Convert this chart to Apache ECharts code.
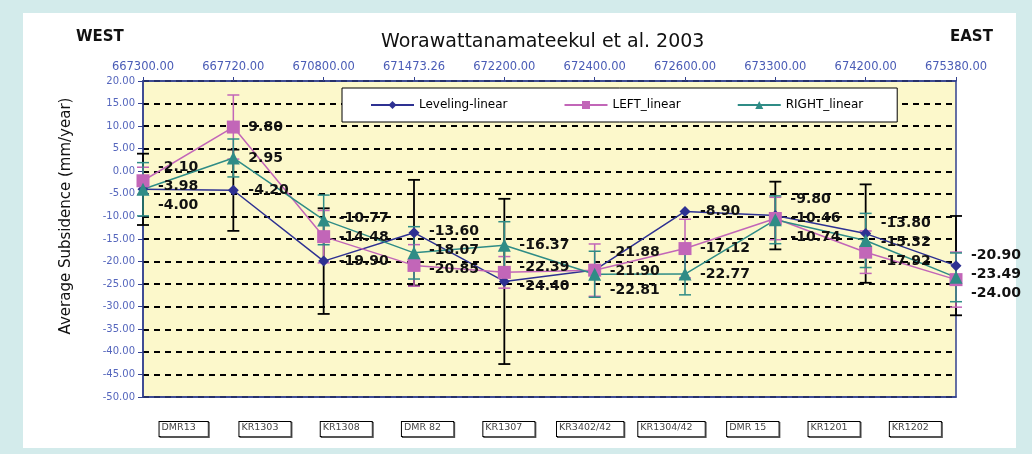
<!DOCTYPE html>
<html>
<head>
<meta charset="utf-8">
<script src="https://cdn.jsdelivr.net/npm/echarts@6/dist/echarts.min.js"></script>
<style>
  html, body { margin: 0; padding: 0; background: #d3ebeb; }
  #panel { position: absolute; left: 23px; top: 13px; width: 993px; height: 435px; background: #ffffff; }
  #chart { position: absolute; left: 0; top: 0; width: 1032px; height: 454px; }
</style>
</head>
<body>
<div id="panel"></div>
<div id="chart"></div>
<script>
// ---- data ----
const stations = ['DMR13', 'KR1303', 'KR1308', 'DMR 82', 'KR1307', 'KR3402/42', 'KR1304/42', 'DMR 15', 'KR1201', 'KR1202'];
const eastings = ['667300.00', '667720.00', '670800.00', '671473.26', '672200.00', '672400.00', '672600.00', '673300.00', '674200.00', '675380.00'];
const seriesNames = ['Leveling-linear', 'LEFT_linear', 'RIGHT_linear'];
const leveling = [-4.00, -4.20, -19.90, -13.60, -24.40, -21.88, -8.90, -9.80, -13.80, -20.90];
const leftLin  = [-2.10, 9.80, -14.48, -20.85, -22.39, -21.90, -17.12, -10.46, -17.92, -24.00];
const rightLin = [-3.98, 2.95, -10.77, -18.07, -16.37, -22.81, -22.77, -10.74, -15.32, -23.49];
const levelingErr = [7.9, 9.0, 11.7, 11.7, 18.3, 0, 0, 7.5, 10.9, 11.0];
const leftErr     = [3.0, 7.1, 5.8, 4.6, 3.5, 5.8, 6.5, 4.7, 4.7, 6.1];
const rightErr    = [5.9, 4.2, 5.5, 5.8, 5.2, 5.1, 4.6, 5.3, 6.0, 5.4];
const yMin = -50, yMax = 20, yStep = 5;

const allVals = [leveling, leftLin, rightLin];
const colors = ['#2e3192', '#c266b8', '#2f8c86'];
const errColors = ['#000000', '#c266b8', '#2f8c86'];
const symbols = ['diamond', 'rect', 'triangle'];
const symbolSizes = [11, 13, 13];

const chart = echarts.init(document.getElementById('chart'), null, { renderer: 'canvas' });

// generic 1D de-overlap of the three labels at one station
function spreadLabels(ys, gap) {
  const items = ys.map((y, k) => ({ k, y })).sort((a, b) => a.y - b.y);
  let clusters = [];
  items.forEach(it => {
    clusters.push({ ids: [it.k], sum: it.y, n: 1 });
    while (clusters.length > 1) {
      const b = clusters[clusters.length - 1], a = clusters[clusters.length - 2];
      const aEnd = a.sum / a.n + (a.n - 1) * gap / 2;
      const bStart = b.sum / b.n - (b.n - 1) * gap / 2;
      if (aEnd + gap > bStart) {
        clusters.pop(); clusters.pop();
        clusters.push({ ids: a.ids.concat(b.ids), sum: a.sum + b.sum, n: a.n + b.n });
      } else break;
    }
  });
  const out = [];
  clusters.forEach(c => {
    const start = c.sum / c.n - (c.n - 1) * gap / 2;
    c.ids.forEach((k, j) => { out[k] = start + j * gap; });
  });
  return out;
}

function labelLayout(params) {
  const i = params.dataIndex, s = params.seriesIndex;
  const ys = allVals.map(arr => chart.convertToPixel({ xAxisIndex: 0, yAxisIndex: 0 }, [i, arr[i]])[1]);
  const px = chart.convertToPixel({ xAxisIndex: 0, yAxisIndex: 0 }, [i, allVals[s][i]]);
  const newYs = spreadLabels(ys, 19);
  return { x: px[0] + 15, y: newYs[s], align: 'left', verticalAlign: 'middle' };
}

function errSeries(vals, errs, color, width) {
  return {
    type: 'custom',
    xAxisIndex: 0, yAxisIndex: 0,
    silent: true,
    z: 1,
    data: vals.map((v, i) => [i, v + errs[i], v - errs[i]]),
    encode: { x: 0, y: [1, 2] },
    renderItem: function (params, api) {
      const i = api.value(0);
      const hi = api.coord([i, api.value(1)]);
      const lo = api.coord([i, api.value(2)]);
      if (Math.abs(hi[1] - lo[1]) < 0.5) return null;
      const c = 6;
      const st = { stroke: color, lineWidth: width };
      return {
        type: 'group',
        children: [
          { type: 'line', shape: { x1: hi[0], y1: hi[1], x2: lo[0], y2: lo[1] }, style: st },
          { type: 'line', shape: { x1: hi[0] - c, y1: hi[1], x2: hi[0] + c, y2: hi[1] }, style: st },
          { type: 'line', shape: { x1: lo[0] - c, y1: lo[1], x2: lo[0] + c, y2: lo[1] }, style: st }
        ]
      };
    }
  };
}

const lineSeries = allVals.map((arr, s) => ({
  name: seriesNames[s],
  type: 'line',
  xAxisIndex: 0, yAxisIndex: 0,
  data: arr,
  z: 3,
  symbol: symbols[s],
  symbolSize: symbolSizes[s],
  showAllSymbol: true,
  lineStyle: { color: colors[s], width: 1.5 },
  itemStyle: { color: colors[s] },
  label: {
    show: true,
    formatter: p => p.value.toFixed(2),
    color: '#111',
    fontFamily: 'DejaVu Sans',
    fontWeight: 'bold',
    fontSize: 14
  },
  labelLayout: labelLayout,
  emphasis: { disabled: true }
}));

const option = {
  animation: false,
  textStyle: { fontFamily: 'DejaVu Sans' },
  title: [
    { text: 'Worawattanamateekul et al. 2003', left: 376, top: 28,
      textStyle: { fontFamily: 'DejaVu Sans', fontSize: 19, fontWeight: 'normal', color: '#111' } },
    { text: 'WEST', left: 71, top: 25,
      textStyle: { fontFamily: 'DejaVu Sans', fontSize: 15, fontWeight: 'bold', color: '#111' } },
    { text: 'EAST', left: 945, top: 25,
      textStyle: { fontFamily: 'DejaVu Sans', fontSize: 15, fontWeight: 'bold', color: '#111' } }
  ],
  legend: {
    data: seriesNames,
    left: 342, top: 88,
    orient: 'horizontal',
    backgroundColor: '#ffffff',
    borderColor: '#000000',
    borderWidth: 1,
    padding: [11, 34, 11, 28],
    itemGap: 56,
    itemWidth: 43,
    itemHeight: 10,
    textStyle: { fontFamily: 'DejaVu Sans', fontSize: 12, color: '#000' }
  },
  graphic: [
    { type: 'text', x: 66, y: 216, rotation: Math.PI / 2,
      style: { text: 'Average Subsidence (mm/year)', font: '15px "DejaVu Sans"', fill: '#111',
               align: 'center', verticalAlign: 'middle' } }
  ],
  grid: {
    left: 143, right: 76, top: 81, bottom: 57,
    show: true,
    backgroundColor: '#fcf8cb',
    borderColor: '#33418f',
    borderWidth: 1.5
  },
  xAxis: [
    {
      type: 'category', position: 'top', data: eastings, boundaryGap: false,
      axisLine: { onZero: false, lineStyle: { color: '#33418f', width: 1.5 } },
      axisTick: { show: true, length: 4, lineStyle: { color: '#33418f' } },
      axisLabel: { margin: 8, fontSize: 11.5, color: '#4a5cb6', fontFamily: 'DejaVu Sans' },
      splitLine: { show: false }
    },
    {
      type: 'category', position: 'bottom', data: stations, boundaryGap: true,
      axisLine: { onZero: false, lineStyle: { color: '#33418f', width: 1.5 } },
      axisTick: { show: false },
      axisLabel: {
        margin: 25, fontSize: 9.5, color: '#444', fontFamily: 'DejaVu Sans',
        borderColor: '#000', borderWidth: 1, padding: [1, 12, 3, 2], backgroundColor: '#fff',
        shadowColor: '#555', shadowOffsetX: 1, shadowOffsetY: 1, shadowBlur: 0
      },
      splitLine: { show: false }
    }
  ],
  yAxis: {
    type: 'value', min: yMin, max: yMax, interval: yStep,
    axisLine: { show: true, onZero: false, lineStyle: { color: '#33418f', width: 1.5 } },
    axisTick: { show: true, length: 5, lineStyle: { color: '#33418f' } },
    axisLabel: { margin: 8, fontSize: 10, color: '#5566bd', fontFamily: 'DejaVu Sans',
                 formatter: v => v.toFixed(2) },
    splitLine: { show: true, lineStyle: { color: '#000', width: 2, type: [6, 5] } }
  },
  series: lineSeries.concat([
    errSeries(leveling, levelingErr, errColors[0], 1.8),
    errSeries(leftLin, leftErr, errColors[1], 1.5),
    errSeries(rightLin, rightErr, errColors[2], 1.5)
  ])
};

chart.setOption(option);
</script>
</body>
</html>
